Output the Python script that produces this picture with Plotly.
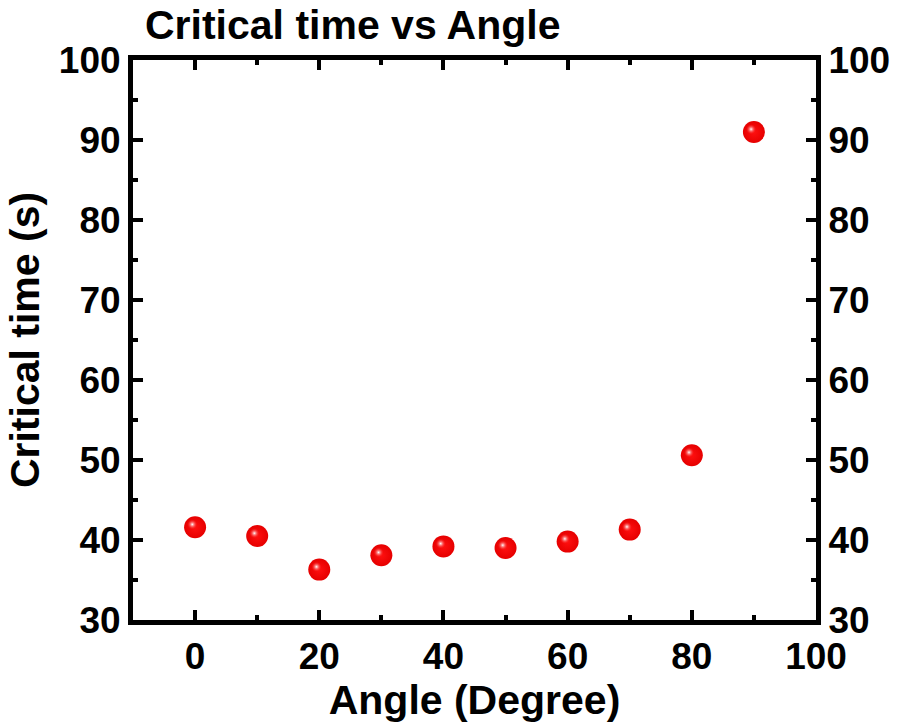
import plotly.graph_objects as go

angles = [0, 10, 20, 30, 40, 50, 60, 70, 80, 90]
critical_time = [41.6, 40.5, 36.3, 38.1, 39.2, 39.0, 39.8, 41.3, 50.6, 91.0]
y_ticks = [30, 40, 50, 60, 70, 80, 90, 100]
x_ticks = [0, 20, 40, 60, 80, 100]

FONT = "Liberation Sans, Arial, sans-serif"
tickfont = dict(family=FONT, size=37, color="black", weight="bold")
titlefont = dict(family=FONT, size=41, color="black", weight="bold")

# highlight offset (pixel offset expressed in data units) for the shaded-sphere look
hx = [a - 0.45 for a in angles]
hy = [c + 0.35 for c in critical_time]

fig = go.Figure()
fig.add_trace(go.Scatter(
    x=angles, y=critical_time, mode="markers",
    marker=dict(size=22, color="#e60000",
                gradient=dict(type="radial", color="#ff1010"),
                line=dict(width=0)),
    showlegend=False))
fig.add_trace(go.Scatter(
    x=hx, y=hy, mode="markers", hoverinfo="skip",
    marker=dict(size=10, color="rgba(255,40,40,0)",
                gradient=dict(type="radial", color="#ffffff"),
                line=dict(width=0)),
    showlegend=False))
# invisible trace on yaxis2 for right labels
fig.add_trace(go.Scatter(x=[None], y=[None], yaxis="y2", showlegend=False, hoverinfo="skip"))

axis_common = dict(showline=True, linewidth=5, linecolor="black", ticks="inside",
                   ticklen=10, tickwidth=4, tickcolor="black", showgrid=False,
                   zeroline=False, tickfont=tickfont)
minor_common = dict(ticks="inside", ticklen=5, tickwidth=4, tickcolor="black")

fig.update_layout(
    width=902, height=724,
    margin=dict(l=133, r=82, t=60, b=104),
    plot_bgcolor="white", paper_bgcolor="white",
    title=dict(text="Critical time vs Angle", x=145/902, xanchor="left",
               y=1-25/724, yanchor="middle",
               font=dict(family=FONT, size=41, color="black", weight="bold")),
    xaxis=dict(range=[-10, 100], tickvals=x_ticks, mirror="ticks",
               title=dict(text="Angle (Degree)", font=titlefont, standoff=2),
               minor=dict(dtick=10, **minor_common), **axis_common),
    yaxis=dict(range=[30, 100], tickvals=y_ticks,
               title=dict(text="Critical time (s)", font=titlefont, standoff=8),
               minor=dict(dtick=5, **minor_common), **axis_common),
    yaxis2=dict(range=[30, 100], tickvals=y_ticks, overlaying="y", side="right",
                minor=dict(dtick=5, **minor_common), **axis_common),
)
fig.write_html("out.html")
